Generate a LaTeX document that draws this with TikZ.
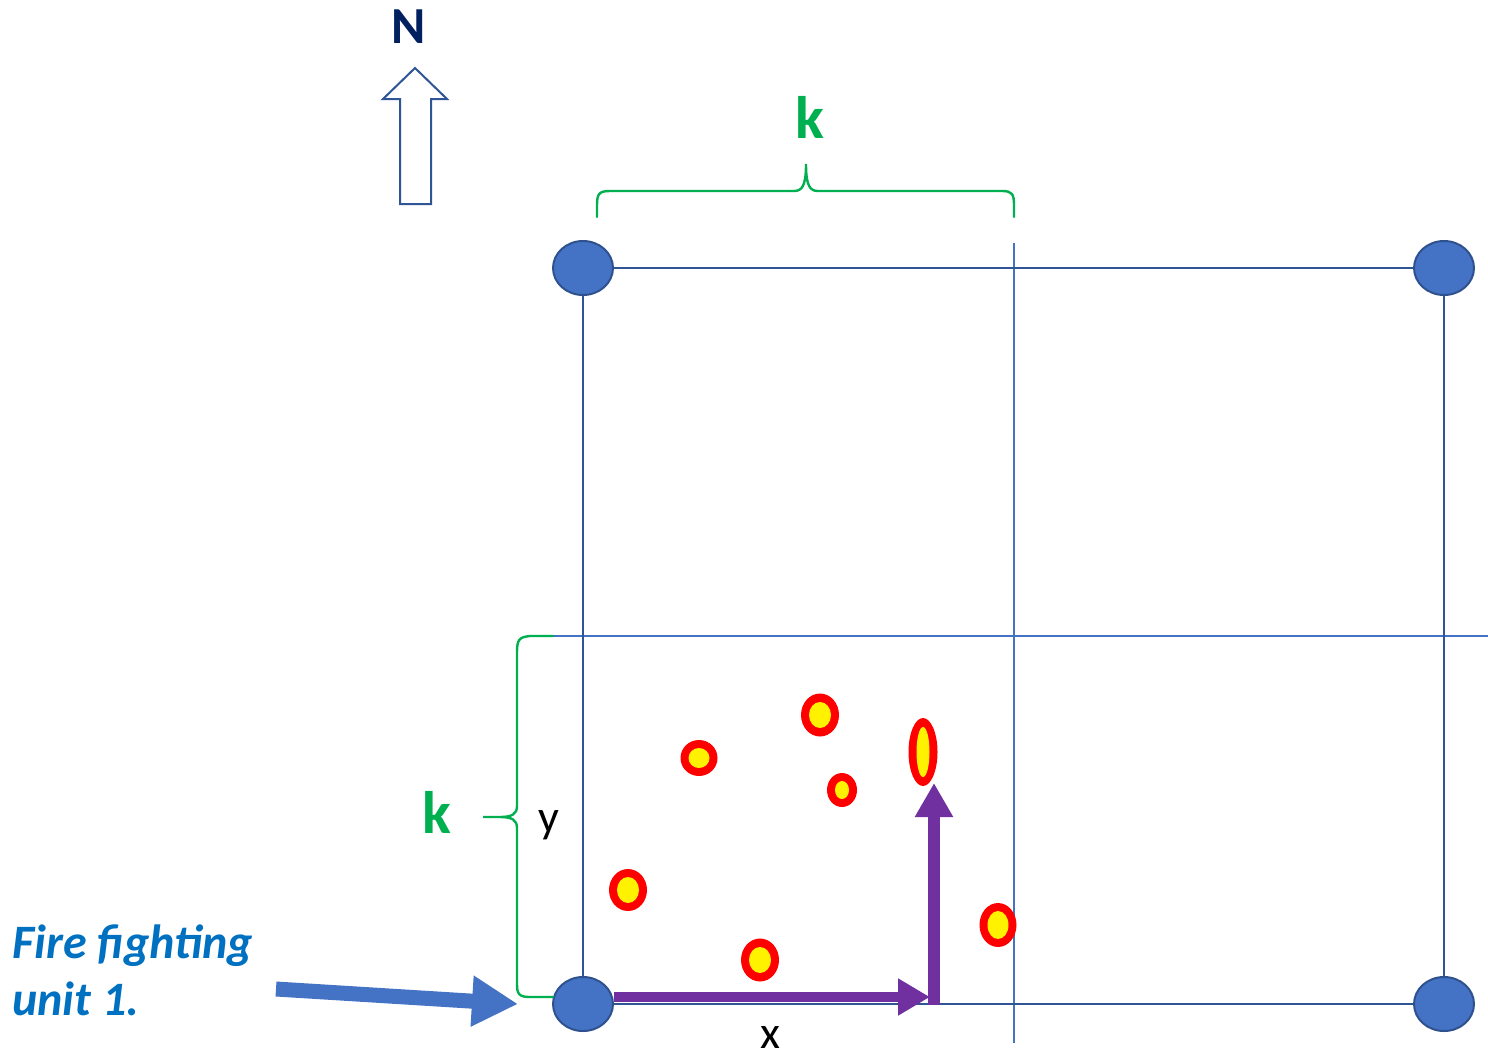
\documentclass[tikz,border=0pt]{standalone}
\usepackage{fontspec}
\setmainfont{Carlito}
\usetikzlibrary{positioning,arrows.meta,shapes.geometric}
\definecolor{gridBlue}{HTML}{2F5597}
\definecolor{unitBlue}{HTML}{4472C4}
\definecolor{unitEdge}{HTML}{2F528F}
\definecolor{braceGreen}{HTML}{00B050}
\definecolor{pathPurple}{HTML}{7030A0}
\definecolor{labelBlue}{HTML}{0070C0}
\definecolor{northNavy}{HTML}{002060}

\begin{document}
\begin{tikzpicture}[x=0.5pt, y=-0.5pt,
    unit/.style={ellipse, draw=unitEdge, line width=1pt, fill=unitBlue, minimum width=30pt, minimum height=27pt, inner sep=0pt},
    side/.style={draw=gridBlue, line width=1.3pt},
    thin/.style={draw=unitBlue, line width=0.6pt},
    brace/.style={draw=braceGreen, line width=1.2pt, line cap=round},
    klabel/.style={text=braceGreen, font=\fontsize{30}{36}\selectfont\bfseries, inner sep=0pt, anchor=base},
    axlabel/.style={font=\fontsize{23}{28}\selectfont, inner sep=0pt, anchor=base},
    move/.style={draw=pathPurple, line width=#1},
    pointer/.style={draw=unitBlue, line width=7.5pt, -{Triangle[length=23pt, width=24pt]}}]
  \useasboundingbox (0,0) rectangle (1488,1055);

  % thin grid lines
  \coordinate (vtop) at (1014,243);
  \coordinate (vbot) at (1014,1043);
  \coordinate (hleft) at (553,636);
  \coordinate (hright) at (1488,636);
  \draw[thin] (vtop) -- (vbot);
  \draw[thin] (hleft) -- (hright);

  % units at the corners
  \node[unit] (tl) at (583,268) {};
  \node[unit] (tr) at (1444,268) {};
  \node[unit] (bl) at (583,1004) {};
  \node[unit] (br) at (1444,1004) {};
  \foreach \a/\b in {tl/tr, tr/br, br/bl, bl/tl} { \draw[side] (\a) -- (\b); }

  % braces
  \draw[brace] (597,217) -- (597,205) .. controls (597,194) and (599,191) .. (610,191) -- (794,191)
    .. controls (802,191) and (806,186) .. (806,164) .. controls (806,186) and (810,191) .. (818,191)
    -- (1002,191) .. controls (1012,191) and (1014,194) .. (1014,205) -- (1014,217);
  \draw[brace] (553,636) -- (530,636) .. controls (519,637) and (517,640) .. (517,652) -- (517,806)
    .. controls (517,814) and (512,817) .. (500,817) -- (483,817) -- (500,817)
    .. controls (512,817) and (517,820) .. (517,828) -- (517,984)
    .. controls (517,994) and (519,997) .. (530,997) -- (553,997);
  \node[klabel] (ktop) at (810,138) {k};
  \node[klabel] (kleft) at (437,833) {k};

  % fires
  \foreach \cx/\cy/\rx/\ry/\ix/\iy in {923/752/14.5/34/6.5/25, 998/925/18.5/22/10.5/14,
      820/715/19/21.5/11/13, 699/758/18.5/18/10.5/10, 842/790/15/17/7/9,
      628/890/19/21/11/13, 760/960/19/21.5/11/13} {
    \fill[red] (\cx,\cy) ellipse[x radius=\rx, y radius=\ry];
    \fill[yellow] (\cx,\cy) ellipse[x radius=\ix, y radius=\iy];
  }

  % moves x and y
  \coordinate (xend) at (930,997);
  \coordinate (turn) at (934,1005);
  \coordinate (yend) at (934,783);
  \draw[move=5pt, -{Triangle[length=16pt, width=17.5pt]}] ([yshift=3.5pt]bl.east) -- (xend);
  \draw[move=6pt, -{Triangle[length=17pt, width=18pt]}] (turn) -- (yend);
  \node[axlabel] (xl) at (770,1048) {x};
  \node[axlabel] (yl) at (549,832) {y};

  % north
  \draw[draw=gridBlue, line width=1pt, fill=white] (415,68) -- (447,99) -- (431,99) -- (431,204)
    -- (400,204) -- (400,99) -- (383,99) -- cycle;
  \node[text=northNavy, font=\fontsize{26}{30}\selectfont\bfseries, inner sep=0pt, anchor=base] (north) at (409,43) {N};

  % fire fighting unit
  \node[text=labelBlue, font=\fontsize{24}{28.5}\selectfont\bfseries\itshape, align=left, inner sep=0pt, anchor=north west] (ffu) at (12,924) {Fire fighting\\unit 1.};
  \coordinate (ptr) at (276,989);
  \draw[pointer] (ptr) -- ([xshift=-17pt]bl.west);
\end{tikzpicture}
\end{document}
